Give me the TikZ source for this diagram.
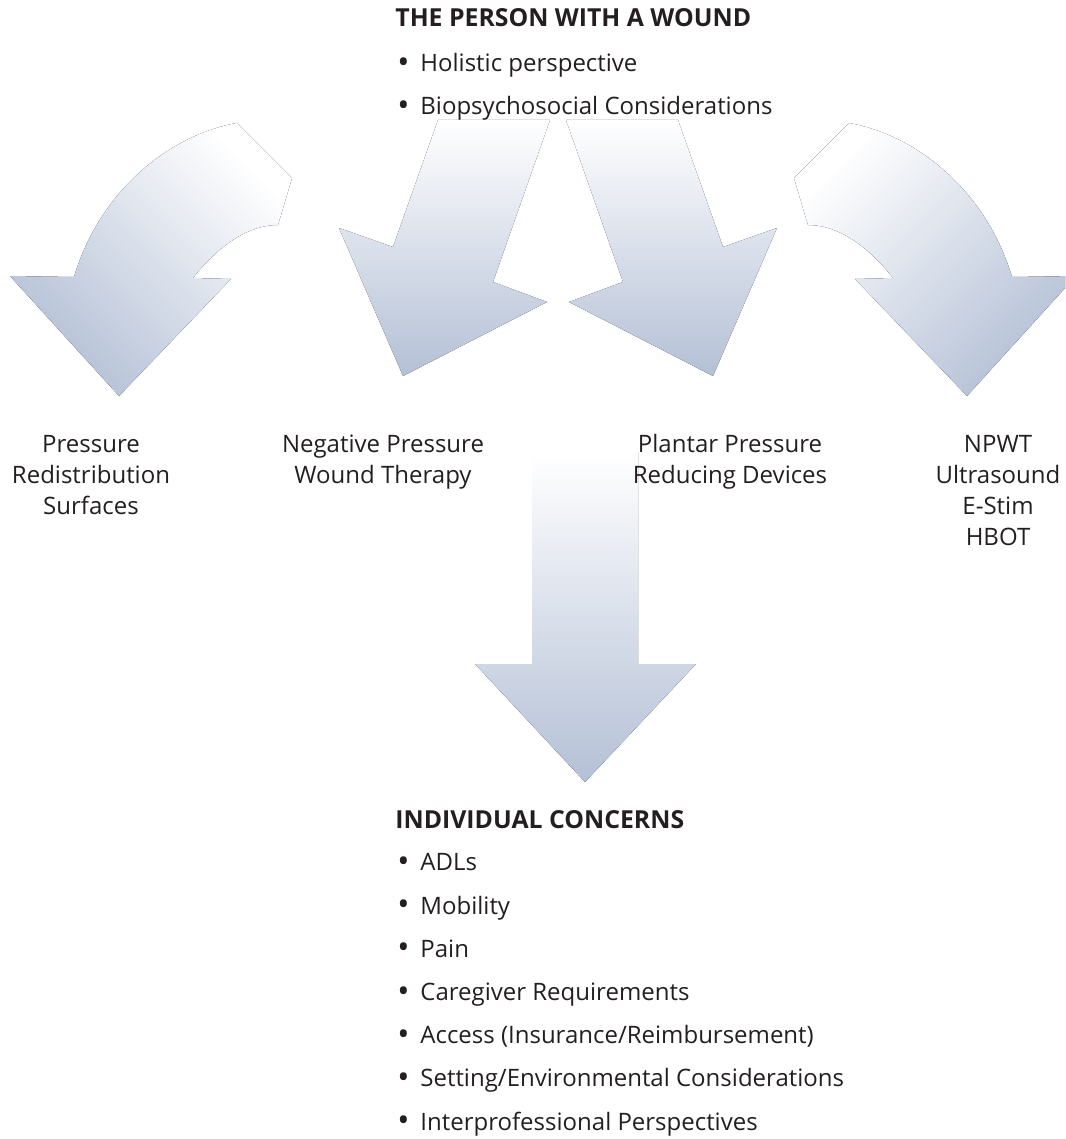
\documentclass[tikz,border=0pt]{standalone}
\usepackage{fontspec}
\setmainfont{Open Sans}
\usetikzlibrary{positioning}

\definecolor{arrowblue}{RGB}{180,192,214}
\definecolor{ink}{RGB}{35,31,32}
\newcommand{\itm}{\makebox[12.5pt][l]{\hspace{1pt}\raisebox{-0.8pt}{\scalebox{1.35}{\textbullet}}}}

\tikzset{
  flow/.style={top color=white, bottom color=arrowblue},
  lbl/.style={font=\fontsize{12}{15.5}\selectfont, text=ink, align=center, inner sep=0pt, anchor=base},
  head/.style={font=\fontsize{12.4}{21.5}\selectfont\bfseries, text=ink, inner sep=0pt, anchor=base west},
  items/.style={font=\fontsize{12}{21.6}\selectfont, text=ink, align=left, inner sep=0pt, anchor=base west}
}

\begin{document}
\begin{tikzpicture}[x=0.5pt, y=-0.5pt]
  \useasboundingbox (0,0) rectangle (1065,1139);
  \clip (0,0) rectangle (1065,1139);

  % Arrows
  \fill[flow, shading angle=-45] (74,277) .. controls (100,190) and (170,135) .. (237,123)
    -- (292,178) -- (278,225) .. controls (245,225) and (215,250) .. (193,278)
    -- (231,279) -- (119,396) -- (10,276) -- cycle;
  \fill[flow] (438,120) -- (550,120) -- (493,282) -- (547,302) -- (403,376) -- (339,228) -- (393,247) -- cycle;
  \fill[flow] (678,120) -- (566,120) -- (623,282) -- (569,302) -- (713,376) -- (777,228) -- (723,247) -- cycle;
  \fill[flow, shading angle=45] (1012,277) .. controls (986,190) and (916,135) .. (849,123)
    -- (794,178) -- (808,225) .. controls (841,225) and (871,250) .. (893,278)
    -- (855,279) -- (967,396) -- (1076,276) -- cycle;
  \fill[flow] (532,452) -- (638,452) -- (638,664) -- (696,664) -- (585,782) -- (475,664) -- (532,664) -- cycle;

  % Nodes (base = last line)
  \node[head] (person) at (395,27) {THE PERSON WITH A WOUND};
  \node[items] (holistic) at (395,115) {\itm Holistic perspective\\ \itm Biopsychosocial Considerations};

  \node[lbl] (surfaces) at (91,514) {Pressure\\Redistribution\\Surfaces};
  \node[lbl] (npwt) at (383,483) {Negative Pressure\\Wound Therapy};
  \node[lbl] (plantar) at (730,483) {Plantar Pressure\\Reducing Devices};
  \node[lbl] (modalities) at (998,545) {NPWT\\Ultrasound\\E-Stim\\HBOT};

  \node[head] (concerns) at (395,828) {INDIVIDUAL CONCERNS};
  \node[items] (list) at (395,1130) {\itm ADLs\\ \itm Mobility\\ \itm Pain\\ \itm Caregiver Requirements\\
    \itm Access (Insurance/Reimbursement)\\ \itm Setting/Environmental Considerations\\
    \itm Interprofessional Perspectives};
\end{tikzpicture}
\end{document}
